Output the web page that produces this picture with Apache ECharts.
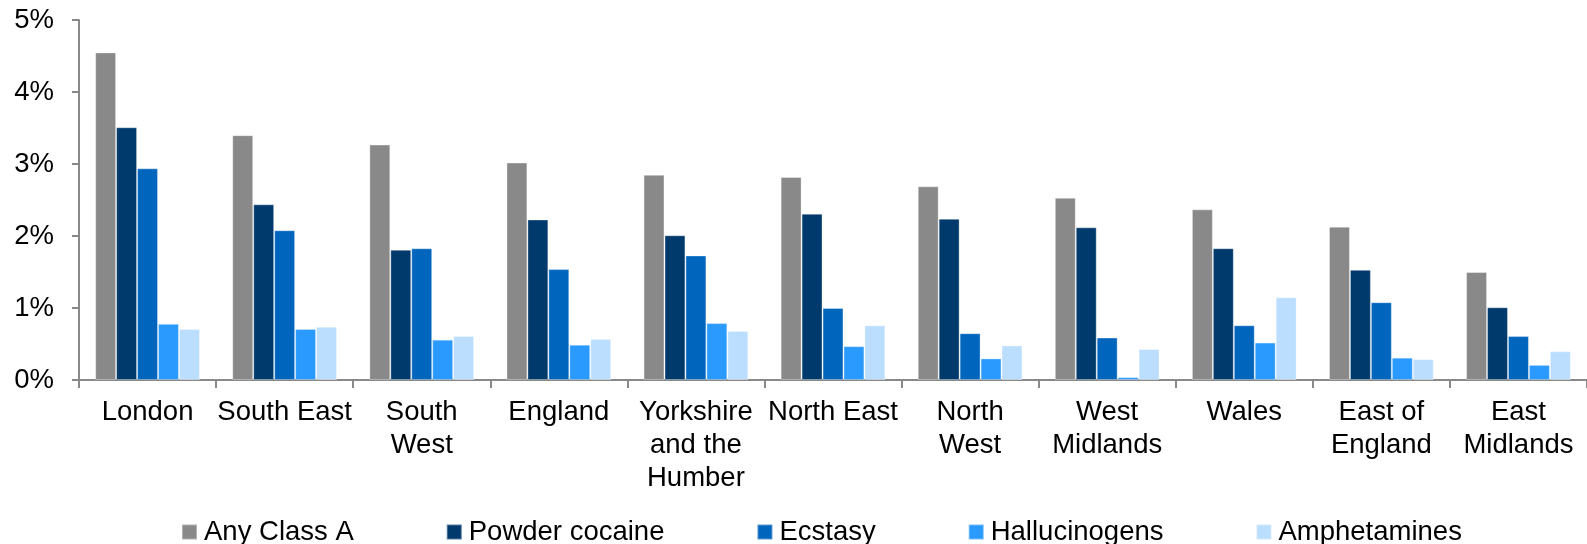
<!DOCTYPE html>
<html>
<head>
<meta charset="utf-8">
<title>Class A drug use by region</title>
<script src="https://cdn.jsdelivr.net/npm/echarts@6/dist/echarts.min.js"></script>
<style>
  html, body { margin: 0; padding: 0; background: #ffffff; }
  #chart { width: 1587px; height: 544px; }
</style>
</head>
<body>
<div id="chart"></div>
<script>
// Regions, ordered by Any Class A prevalence
const categories = ['London', 'South East', 'South West', 'England', 'Yorkshire and the Humber',
  'North East', 'North West', 'West Midlands', 'Wales', 'East of England', 'East Midlands'];
// Wrapped versions shown under the axis
const tickLabels = ['London', 'South East', 'South\nWest', 'England', 'Yorkshire\nand the\nHumber',
  'North East', 'North\nWest', 'West\nMidlands', 'Wales', 'East of\nEngland', 'East\nMidlands'];
const yTicks = [0, 1, 2, 3, 4, 5]; // percent

// Percentage of respondents using each drug in the last year
const anyClassA     = [4.55, 3.40, 3.27, 3.02, 2.85, 2.82, 2.69, 2.53, 2.37, 2.13, 1.50];
const powderCocaine = [3.51, 2.44, 1.81, 2.23, 2.01, 2.31, 2.24, 2.12, 1.83, 1.53, 1.01];
const ecstasy       = [2.94, 2.08, 1.83, 1.54, 1.73, 1.00, 0.65, 0.59, 0.76, 1.08, 0.61];
const hallucinogens = [0.78, 0.71, 0.56, 0.49, 0.79, 0.47, 0.30, 0.04, 0.52, 0.31, 0.21];
const amphetamines  = [0.71, 0.74, 0.61, 0.57, 0.68, 0.76, 0.48, 0.43, 1.15, 0.29, 0.40];

const seriesNames = ['Any Class A', 'Powder cocaine', 'Ecstasy', 'Hallucinogens', 'Amphetamines'];
const seriesData = [anyClassA, powderCocaine, ecstasy, hallucinogens, amphetamines];
const colors = ['#898989', '#003A6C', '#0065BD', '#2A9AFF', '#BBDEFF'];

const font = '"Liberation Sans", Arial, sans-serif';
const axisColor = '#898989';
const fontSize = 27.5;

const chart = echarts.init(document.getElementById('chart'), null, { renderer: 'canvas' });

chart.setOption({
  animation: false,
  color: colors,
  textStyle: { fontFamily: font, color: '#000' },
  grid: { left: 79, top: 20, height: 360, right: -4, containLabel: false },
  legend: {
    data: seriesNames,
    left: 176,
    top: 512,
    itemWidth: 15,
    itemHeight: 15,
    itemGap: 92,
    icon: 'rect',
    textStyle: { fontSize: fontSize, color: '#000', fontFamily: font, padding: [0, 0, 0, 2], lineHeight: 30 }
  },
  xAxis: {
    type: 'category',
    data: categories,
    boundaryGap: true,
    axisLine: { show: true, lineStyle: { color: axisColor, width: 2 } },
    axisTick: { show: true, length: 8, alignWithLabel: false, lineStyle: { color: axisColor, width: 2 } },
    axisLabel: {
      interval: 0,
      margin: 16,
      fontSize: fontSize,
      lineHeight: 33,
      color: '#000',
      fontFamily: font,
      formatter: (v, i) => tickLabels[i]
    },
    splitLine: { show: false }
  },
  yAxis: {
    type: 'value',
    min: yTicks[0],
    max: yTicks[yTicks.length - 1],
    interval: 1,
    axisLine: { show: true, lineStyle: { color: axisColor, width: 2 } },
    axisTick: { show: true, length: 7, lineStyle: { color: axisColor, width: 2 } },
    axisLabel: {
      margin: 25,
      fontSize: fontSize,
      color: '#000',
      fontFamily: font,
      formatter: v => v + '%'
    },
    splitLine: { show: false }
  },
  series: seriesNames.map((name, i) => ({
    name: name,
    type: 'bar',
    data: seriesData[i],
    barGap: '0%',
    barCategoryGap: '23.6%',
    itemStyle: { color: colors[i], borderColor: 'rgba(255,255,255,0.35)', borderWidth: 1 }
  }))
});
</script>
</body>
</html>
